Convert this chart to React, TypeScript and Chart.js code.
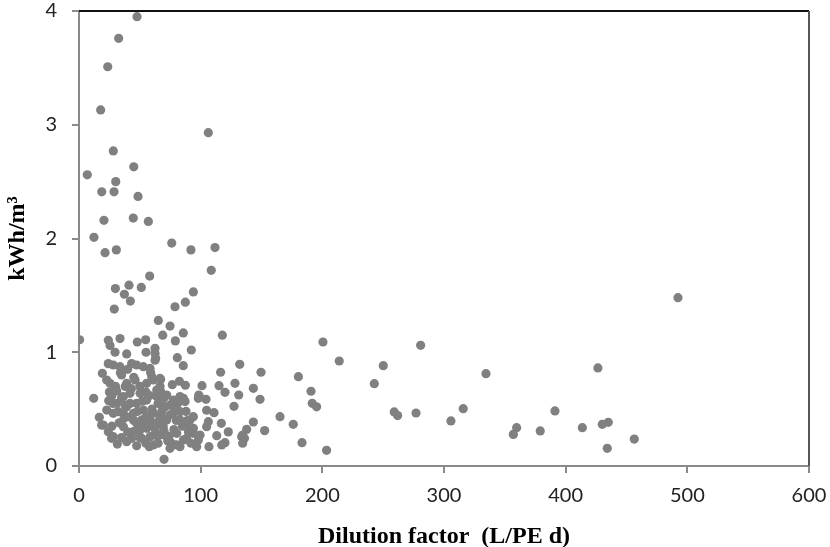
import React, { useEffect, useRef } from "react";
import { Chart, registerables } from "chart.js";

Chart.register(...registerables);

// Dilution factor (L/PE d)
const dilutionFactor: number[] = [
  47.7, 32.6, 23.6, 17.8, 106.3, 28.2, 6.8, 45.0, 30.2, 18.7, 28.8, 48.5, 20.5, 44.6, 57.0, 12.3,
  76.2, 92.0, 111.8, 21.4, 30.7, 108.7, 58.1, 29.9, 41.1, 51.2, 37.3, 42.2, 94.0, 87.4, 29.0, 78.9,
  65.2, 74.8, 0.5, 24.1, 33.7, 68.8, 79.2, 85.7, 117.8, 47.9, 54.8, 25.5, 29.6, 39.2, 55.1, 62.5,
  63.0, 92.3, 80.8, 85.7, 132.1, 116.4, 149.6, 180.3, 200.5, 67.1, 76.7, 82.5, 87.4, 101.1, 115.1,
  128.2, 143.3, 120.0, 131.3, 148.8, 127.4, 98.9, 104.4, 98.4, 104.9, 111.0, 190.7, 191.7, 195.3,
  165.2, 176.1, 183.3, 143.3, 152.6, 137.8, 134.5, 134.5, 117.0, 122.7, 113.2, 117.3, 120.0, 104.9,
  106.8, 69.9, 47.4, 57.8, 31.5, 12.1, 24.4,
  492.3, 213.9, 280.8, 250.1, 242.7, 334.5, 426.5, 203.5, 259.1, 261.9, 277.0, 305.7, 315.8, 357.0,
  359.7, 379.1, 391.2, 413.7, 430.1, 435.0, 434.2, 456.4,
  24.1, 28.2, 19.2, 22.8, 25.5, 33.7, 43.3, 47.4, 52.9, 58.4, 59.8, 46.1, 39.2, 55.6, 61.1, 63.9,
  50.2, 41.9, 36.5, 31.0, 39.2, 47.4, 55.6, 63.9, 72.1, 77.6, 83.0, 87.2, 69.3, 61.1, 52.9, 44.7,
  36.5, 28.2, 22.8, 16.7, 20.0, 24.1, 28.2, 36.5, 41.9, 43.3, 50.2, 55.6, 58.4, 63.9, 69.3, 72.1,
  76.2, 80.3, 83.0, 85.8, 88.5, 91.3, 94.0, 96.7, 98.1, 94.0, 83.0, 77.6, 72.1, 66.6, 58.4, 51.5,
  47.4, 62.5, 62.5, 58.9,
  18.6, 26.8, 37.8, 32.3, 44.7, 51.5, 62.5, 39.2, 54.2, 65.2, 61.1,
  106.3, 133.7, 94.0, 99.5, 88.5, 80.3, 74.8, 83.0, 98.1, 85.8, 74.8, 69.3, 66.6, 66.6,
  35, 40, 45, 50, 55, 30, 35, 42, 48, 60, 65, 70, 75, 80, 85, 90, 70, 65, 60, 45, 40, 33, 28, 25,
  38, 52, 58, 68, 78, 88, 92, 78, 73, 50, 55, 63, 35, 27, 136, 66.6,
  31, 37, 43, 49, 57, 64, 71, 27, 34, 42, 53, 67, 74, 81, 89,
];

// Specific energy (kWh/m3)
const energyKwh: number[] = [
  3.95, 3.76, 3.51, 3.13, 2.93, 2.77, 2.56, 2.63, 2.50, 2.41, 2.41, 2.37, 2.16, 2.18, 2.15, 2.01,
  1.96, 1.90, 1.92, 1.875, 1.90, 1.72, 1.67, 1.56, 1.59, 1.57, 1.51, 1.45, 1.53, 1.44, 1.38, 1.40,
  1.28, 1.23, 1.11, 1.105, 1.12, 1.15, 1.10, 1.17, 1.15, 1.09, 1.11, 1.06, 1.00, 0.985, 1.00, 1.035,
  0.947, 1.02, 0.952, 0.882, 0.894, 0.824, 0.824, 0.785, 1.09, 0.76, 0.715, 0.745, 0.71, 0.706, 0.706,
  0.727, 0.683, 0.648, 0.624, 0.586, 0.525, 0.61, 0.586, 0.624, 0.49, 0.469, 0.657, 0.551, 0.52,
  0.434, 0.366, 0.205, 0.387, 0.311, 0.322, 0.272, 0.20, 0.375, 0.30, 0.267, 0.185, 0.205, 0.346,
  0.17, 0.059, 0.178, 0.17, 0.193, 0.595, 0.574,
  1.48, 0.923, 1.061, 0.882, 0.724, 0.812, 0.862, 0.138, 0.475, 0.443, 0.466, 0.396, 0.504, 0.278,
  0.337, 0.308, 0.484, 0.337, 0.366, 0.384, 0.155, 0.237,
  0.90, 0.888, 0.815, 0.756, 0.727, 0.873, 0.90, 0.888, 0.873, 0.858, 0.785, 0.756, 0.727, 0.727, 0.756, 0.668,
  0.639, 0.639, 0.61, 0.551, 0.522, 0.551, 0.58, 0.61, 0.624, 0.58, 0.61, 0.566, 0.522, 0.463, 0.492, 0.463,
  0.463, 0.463, 0.492, 0.428, 0.36, 0.302, 0.258, 0.346, 0.287, 0.243, 0.317, 0.331, 0.258, 0.36, 0.346, 0.258,
  0.20, 0.287, 0.17, 0.229, 0.346, 0.404, 0.287, 0.17, 0.229, 0.434, 0.404, 0.463, 0.404, 0.434, 0.404, 0.404,
  0.375, 0.99, 0.93, 0.82,
  0.36, 0.243, 0.536, 0.478, 0.302, 0.243, 0.272, 0.214, 0.419, 0.39, 0.185,
  0.39, 0.258, 0.331, 0.272, 0.243, 0.185, 0.155, 0.478, 0.595, 0.595, 0.536, 0.419, 0.272, 0.77,
  0.8, 0.85, 0.78, 0.7, 0.65, 0.7, 0.6, 0.55, 0.48, 0.5, 0.55, 0.6, 0.45, 0.4, 0.35, 0.3, 0.3, 0.2, 0.35, 0.4, 0.3, 0.38, 0.55, 0.65,
  0.7, 0.57, 0.62, 0.48, 0.52, 0.48, 0.2, 0.32, 0.22, 0.25, 0.2, 0.3, 0.25, 0.35, 0.245, 0.70,
  0.66, 0.42, 0.68, 0.35, 0.44, 0.27, 0.52, 0.62, 0.82, 0.43, 0.36, 0.66, 0.26, 0.55, 0.4,
];

const X_MIN = 0;
const X_MAX = 600;
const X_STEP = 100;
const Y_MIN = 0;
const Y_MAX = 4;
const Y_STEP = 1;

const X_TITLE = "Dilution factor  (L/PE d)";
const Y_TITLE = "kWh/m\u00B3";

const frameBorder = {
  id: "frameBorder",
  afterDraw(chart: any) {
    const { ctx, chartArea } = chart;
    const { left, right, top, bottom } = chartArea;
    ctx.save();
    ctx.lineWidth = 2;
    ctx.strokeStyle = "#111";
    ctx.beginPath();
    ctx.moveTo(left, top);
    ctx.lineTo(right, top);
    ctx.stroke();
    ctx.strokeStyle = "#555";
    ctx.beginPath();
    ctx.moveTo(right, top);
    ctx.lineTo(right, bottom);
    ctx.stroke();
    ctx.restore();
  },
};

export default function App() {
  const ref = useRef<HTMLCanvasElement | null>(null);

  useEffect(() => {
    document.body.style.margin = "0";
    const canvas = ref.current;
    if (!canvas) return;
    const points = dilutionFactor.map((x, i) => ({ x, y: energyKwh[i] }));
    const chart = new Chart(canvas, {
      type: "scatter",
      data: {
        datasets: [
          {
            data: points,
            backgroundColor: "#808080",
            borderColor: "#808080",
            borderWidth: 0,
            pointRadius: 4.6,
            pointHoverRadius: 4.6,
          },
        ],
      },
      options: {
        responsive: false,
        animation: false,
        layout: { padding: { top: 11, right: 21, left: 0, bottom: 0 } },
        plugins: {
          legend: { display: false },
          tooltip: { enabled: false },
        },
        scales: {
          x: {
            type: "linear",
            min: X_MIN,
            max: X_MAX,
            ticks: {
              stepSize: X_STEP,
              color: "#222",
              font: { family: "Lato", size: 20 },
              padding: 11,
              maxRotation: 0,
            },
            grid: {
              drawOnChartArea: false,
              drawTicks: true,
              tickLength: 7,
              color: "#8a8a8a",
              lineWidth: 2,
            },
            border: { display: true, color: "#8a8a8a", width: 2 },
            title: {
              display: true,
              text: X_TITLE,
              color: "#000",
              font: { family: "Liberation Serif", size: 24, weight: "bold", lineHeight: 1.0 },
              padding: { top: 0, bottom: -2 },
            },
            afterFit: (scale: any) => {
              scale.height = 81;
              scale.paddingLeft = 0;
              scale.paddingRight = 0;
            },
          },
          y: {
            type: "linear",
            min: Y_MIN,
            max: Y_MAX,
            ticks: {
              stepSize: Y_STEP,
              color: "#222",
              font: { family: "Lato", size: 20 },
              padding: 15,
            },
            grid: {
              drawOnChartArea: false,
              drawTicks: true,
              tickLength: 7,
              color: "#8a8a8a",
              lineWidth: 2,
            },
            border: { display: true, color: "#8a8a8a", width: 2 },
            title: {
              display: true,
              text: Y_TITLE,
              color: "#000",
              font: { family: "Liberation Serif", size: 24, weight: "bold", lineHeight: 1.2 },
              padding: { top: 3, bottom: 0 },
            },
            afterFit: (scale: any) => {
              scale.width = 79;
              scale.paddingTop = 0;
              scale.paddingBottom = 0;
            },
          },
        },
      },
      plugins: [frameBorder],
    });
    return () => chart.destroy();
  }, []);

  return (
    <div style={{ width: 830, height: 547, background: "#fff" }}>
      <canvas ref={ref} width={830} height={547} style={{ display: "block" }} />
    </div>
  );
}
